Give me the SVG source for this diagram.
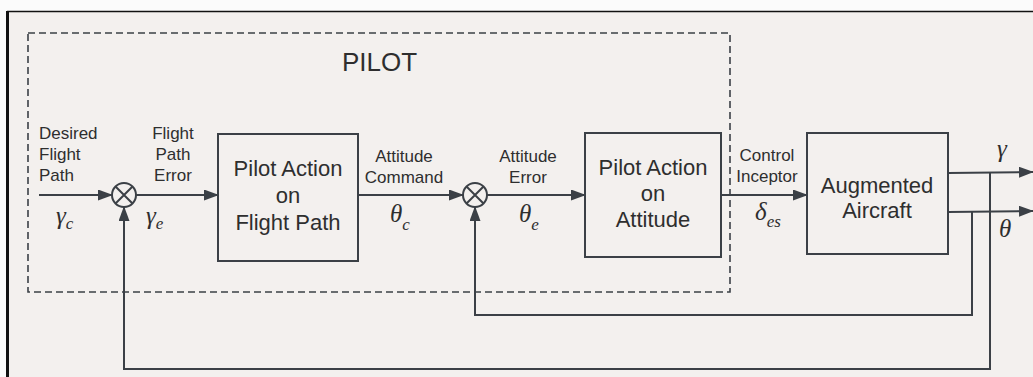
<svg xmlns="http://www.w3.org/2000/svg" width="1033" height="377" viewBox="0 0 1033 377">
  <defs>
    <marker id="arrow" markerUnits="userSpaceOnUse" markerWidth="15" markerHeight="11" refX="14" refY="5.5" orient="auto">
      <path d="M0,0 L15,5.5 L0,11 Z" fill="#3b4046"/>
    </marker>
    <style>
      .lbl { font-family: "Liberation Sans", Arial, sans-serif; font-size: 17px; fill: #2e2e2e; }
      .blk { font-family: "Liberation Sans", Arial, sans-serif; font-size: 22px; fill: #2e2e2e; text-anchor: middle; }
      .title { font-family: "Liberation Sans", Arial, sans-serif; font-size: 26px; fill: #2e2e2e; }
      .sym { font-family: "Liberation Serif", "Times New Roman", serif; font-style: italic; font-size: 25px; fill: #2e2e2e; }
      .sub { font-size: 17px; }
      .mid { text-anchor: middle; }
      .box { fill: none; stroke: #3b4046; stroke-width: 2; }
      .sig { fill: none; stroke: #3b4046; stroke-width: 2; }
      .sum { fill: #f3f0ee; stroke: #3b4046; stroke-width: 2; }
    </style>
  </defs>

  <!-- page background and frame -->
  <rect x="0" y="0" width="1033" height="377" fill="#fbfbfb"/>
  <rect x="8" y="12" width="1025" height="365" fill="#f3f0ee"/>
  <line x1="7" y1="11.5" x2="1033" y2="11.5" stroke="#111" stroke-width="1.5"/>
  <line x1="7.5" y1="11" x2="7.5" y2="377" stroke="#111" stroke-width="3"/>

  <!-- pilot boundary -->
  <g id="pilot">
    <rect x="28" y="33" width="702" height="259" fill="none" stroke="#3b4046" stroke-width="1.6" stroke-dasharray="7 4"/>
    <text class="title" x="342" y="71">PILOT</text>
  </g>

  <!-- connectors -->
  <g id="connectors">
    <line class="sig" x1="39" y1="195" x2="112" y2="195" marker-end="url(#arrow)"/>
    <line class="sig" x1="136" y1="195" x2="218" y2="195" marker-end="url(#arrow)"/>
    <line class="sig" x1="358" y1="195" x2="463" y2="195" marker-end="url(#arrow)"/>
    <line class="sig" x1="487" y1="195" x2="585" y2="195" marker-end="url(#arrow)"/>
    <line class="sig" x1="721" y1="195" x2="807" y2="195" marker-end="url(#arrow)"/>
    <line class="sig" x1="948" y1="173" x2="1033" y2="172" marker-end="url(#arrow)"/>
    <line class="sig" x1="948" y1="212" x2="1033" y2="211" marker-end="url(#arrow)"/>
    <polyline class="sig" points="972,212 972,315 475,315 475,207" marker-end="url(#arrow)"/>
    <polyline class="sig" points="990,173 990,369 124,369 124,207" marker-end="url(#arrow)"/>
  </g>

  <!-- summing junctions -->
  <g id="sum1">
    <circle class="sum" cx="124" cy="195" r="12"/>
    <path class="sig" d="M115.5,186.5 L132.5,203.5 M132.5,186.5 L115.5,203.5"/>
  </g>
  <g id="sum2">
    <circle class="sum" cx="475" cy="195" r="12"/>
    <path class="sig" d="M466.5,186.5 L483.5,203.5 M483.5,186.5 L466.5,203.5"/>
  </g>

  <!-- blocks -->
  <g id="flight-path-block">
    <rect class="box" x="218" y="134" width="140" height="127"/>
    <text class="blk" x="288" y="176">Pilot Action</text>
    <text class="blk" x="288" y="203">on</text>
    <text class="blk" x="288" y="230">Flight Path</text>
  </g>
  <g id="attitude-block">
    <rect class="box" x="585" y="133" width="136" height="124"/>
    <text class="blk" x="653" y="175">Pilot Action</text>
    <text class="blk" x="653" y="201">on</text>
    <text class="blk" x="653" y="227">Attitude</text>
  </g>
  <g id="aircraft-block">
    <rect class="box" x="807" y="133" width="141" height="121"/>
    <text class="blk" x="877" y="193">Augmented</text>
    <text class="blk" x="877" y="218">Aircraft</text>
  </g>

  <!-- signal labels -->
  <g id="labels">
    <text class="lbl" x="39" y="139">Desired</text>
    <text class="lbl" x="39" y="160">Flight</text>
    <text class="lbl" x="39" y="181">Path</text>
    <text class="sym" x="56" y="224">γ<tspan class="sub" dy="5">c</tspan></text>

    <text class="lbl mid" x="173" y="139">Flight</text>
    <text class="lbl mid" x="173" y="160">Path</text>
    <text class="lbl mid" x="173" y="181">Error</text>
    <text class="sym" x="146" y="224">γ<tspan class="sub" dy="5">e</tspan></text>

    <text class="lbl mid" x="404" y="162">Attitude</text>
    <text class="lbl mid" x="404" y="183">Command</text>
    <text class="sym" x="390" y="222">θ<tspan class="sub" dy="8">c</tspan></text>

    <text class="lbl mid" x="528" y="162">Attitude</text>
    <text class="lbl mid" x="528" y="183">Error</text>
    <text class="sym" x="519" y="222">θ<tspan class="sub" dy="8">e</tspan></text>

    <text class="lbl mid" x="767" y="161">Control</text>
    <text class="lbl mid" x="767" y="182">Inceptor</text>
    <text class="sym" x="755" y="220">δ<tspan class="sub" dy="7">es</tspan></text>

    <text class="sym" x="997" y="157">γ</text>
    <text class="sym" x="999" y="237">θ</text>
  </g>
</svg>
